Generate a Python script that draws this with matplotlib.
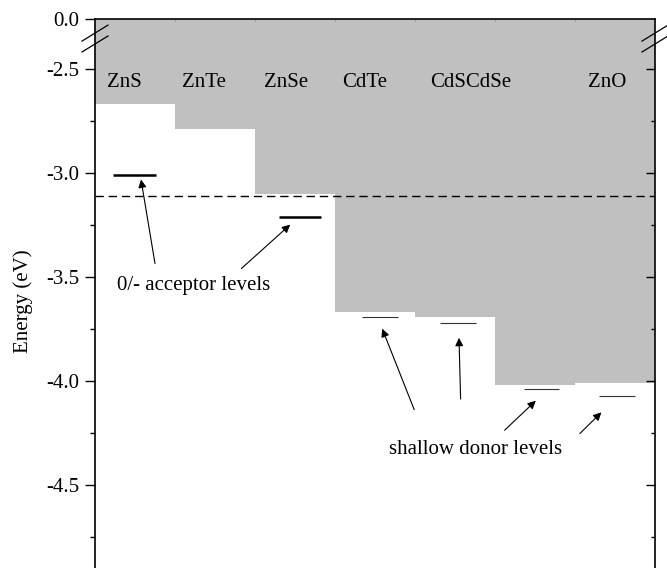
import numpy as np
import matplotlib
matplotlib.use('Agg')
import matplotlib.pyplot as plt

plt.rcParams['font.family'] = ['Liberation Serif', 'DejaVu Serif']
plt.rcParams['font.size'] = 15

# band edges (eV) per column
materials = ['ZnS', 'ZnTe', 'ZnSe', 'CdTe', 'CdS', 'CdSe', 'ZnO']
band_edge = [-2.67, -2.79, -3.10, -3.67, -3.69, -4.02, -4.01]
label_text = ['ZnS', 'ZnTe', 'ZnSe', 'CdTe', 'CdSCdSe', '', 'ZnO']
label_x = [0.15, 1.09, 2.11, 3.09, 4.19, 5.0, 6.16]

# 0/- acceptor levels
acc_x0 = [0.225, 2.30]
acc_x1 = [0.76, 2.83]
acc_E = [-3.01, -3.21]

# shallow donor levels
don_x0 = [3.34, 4.31, 5.36, 6.30]
don_x1 = [3.79, 4.76, 5.80, 6.75]
don_E = [-3.69, -3.72, -4.04, -4.07]

ref_E = -3.11   # dashed line

# arrows: (tail x, tail E) -> (head x, head E)
acc_arrows = [((0.75, -3.435), (0.575, -3.031)),
              ((1.83, -3.459), (2.44, -3.248))]
don_arrows = [((3.99, -4.137), (3.59, -3.748)),
              ((4.57, -4.086), (4.55, -3.792)),
              ((5.12, -4.236), (5.51, -4.094)),
              ((6.06, -4.252), (6.33, -4.150))]

y_top = -2.26
y_bot = -4.97
yticks = [y_top, -2.5, -3.0, -3.5, -4.0, -4.5]
yticklabels = ['0.0', '-2.5', '-3.0', '-3.5', '-4.0', '-4.5']
yminor = [-2.75, -3.25, -3.75, -4.25, -4.75]

fig = plt.figure(figsize=(6.67, 5.68), dpi=100)
ax = fig.add_axes([95/667, -15/568, 560/667, 564/568])

gray = '#c0c0c0'
x = np.arange(len(materials))
ax.bar(x, [y_top - e for e in band_edge], bottom=band_edge, width=1.0,
       align='edge', color=gray, linewidth=0, zorder=1)

for t, lx in zip(label_text, label_x):
    if t:
        ax.text(lx, -2.589, t, ha='left', va='baseline', zorder=3)

ax.axhline(ref_E, color='black', lw=1.0, dashes=(6, 3.5), zorder=2)

ax.hlines(acc_E, acc_x0, acc_x1, color='black', lw=1.8, zorder=3)
ax.hlines(don_E, don_x0, don_x1, color='#333333', lw=0.8, zorder=3)

aprops = dict(arrowstyle='-|>', color='black', lw=0.8, mutation_scale=12,
              shrinkA=0, shrinkB=0)
for tail, head in acc_arrows + don_arrows:
    ax.annotate('', xy=head, xytext=tail, arrowprops=aprops, zorder=4)

ax.text(0.27, -3.56, '0/- acceptor levels', ha='left', va='baseline')
ax.text(3.675, -4.349, 'shallow donor levels', ha='left', va='baseline')

ax.set_xlim(0, len(materials))
ax.set_ylim(y_bot, y_top)

ax.set_yticks(yticks)
ax.set_yticklabels(yticklabels)
ax.set_yticks(yminor, minor=True)
ax.tick_params(axis='y', which='major', direction='out', length=7, width=1.0,
               right=False, pad=4)
ax.tick_params(axis='y', which='minor', direction='out', length=3.6, width=1.0,
               right=False)
ax.yaxis.get_major_ticks()[0].tick1line.set_visible(False)

ax.set_xticks(x[1:])
ax.tick_params(axis='x', bottom=False, labelbottom=False, top=True,
               direction='in', length=1.5, width=0.6, color='#888888')

for s in ['left', 'right', 'top']:
    ax.spines[s].set_linewidth(1.2)
ax.spines['bottom'].set_visible(False)

ax.set_ylabel('Energy (eV)')
ax.yaxis.set_label_coords(-0.111, 0.5)

# right side ticks point inward
ax2 = ax.twinx()
ax2.set_ylim(y_bot, y_top)
ax2.set_yticks(yticks[1:])
ax2.set_yticks(yminor, minor=True)
ax2.tick_params(axis='y', which='major', direction='in', length=6.5, width=1.0,
                labelright=False)
ax2.tick_params(axis='y', which='minor', direction='in', length=2.9, width=1.0,
                labelright=False)
for s in ax2.spines.values():
    s.set_visible(False)

# axis break marks
hx, hy = 13/560, 8/564
for xc in [0.0, 1.0]:
    for yc in [0.975, 0.9557]:
        ax.plot([xc - hx, xc + hx], [yc - hy, yc + hy], transform=ax.transAxes,
                color='black', lw=0.9, clip_on=False, zorder=5)

fig.savefig('out.png', dpi=100)
